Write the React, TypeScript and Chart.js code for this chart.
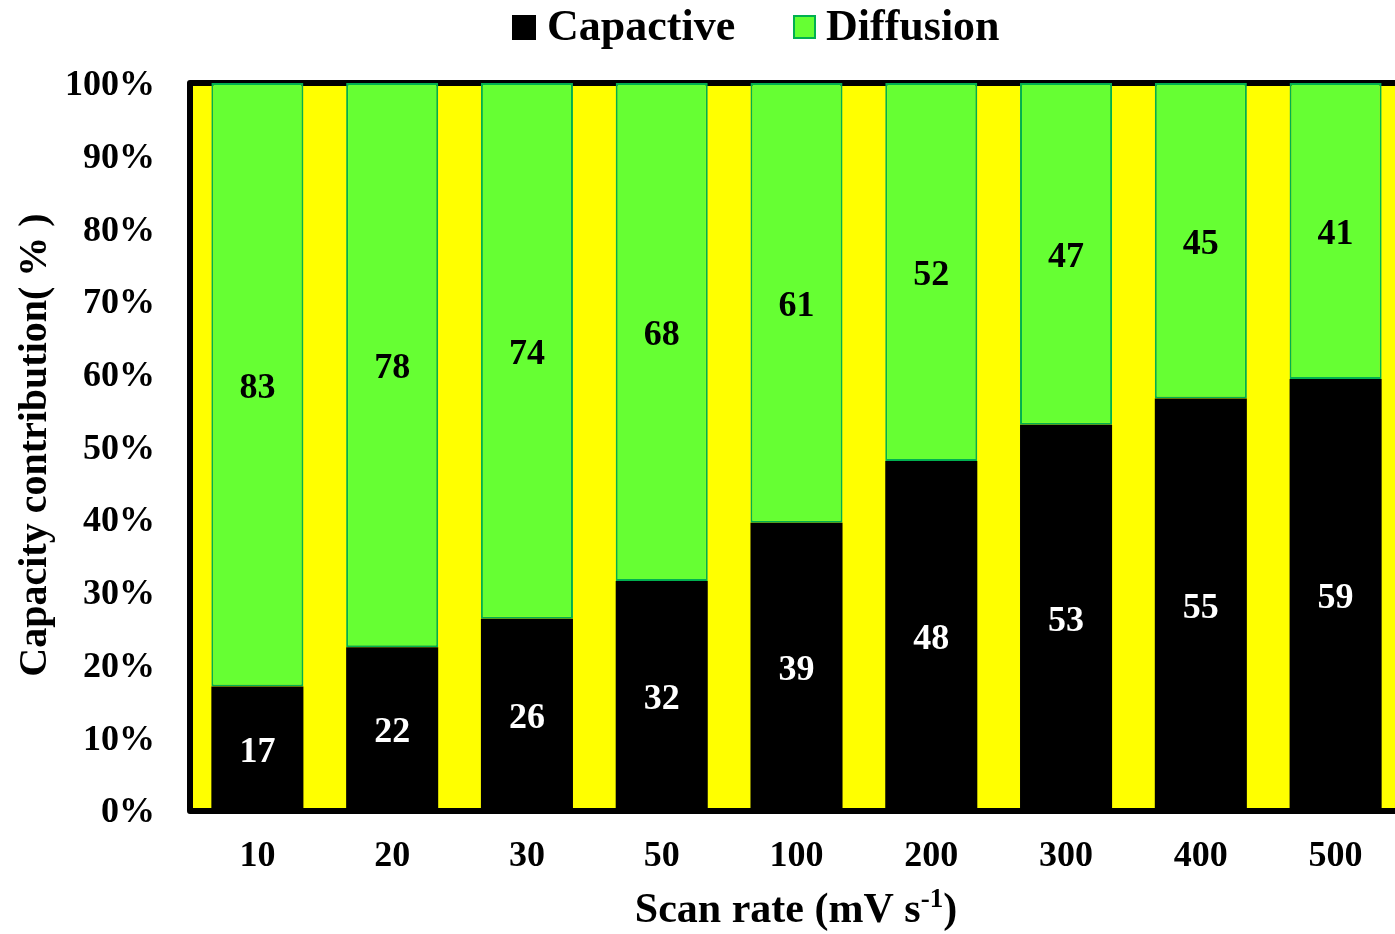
import React, { useEffect, useRef } from "react";
import { Chart, registerables } from "chart.js";

Chart.register(...registerables);

const categories = ["10", "20", "30", "50", "100", "200", "300", "400", "500"];
const capacitiveValues = [17, 22.4, 26.3, 31.5, 39.5, 48, 53, 56.6, 59.3];
const diffusionValues = [83, 77.6, 73.7, 68.5, 60.5, 52, 47, 43.4, 40.7];
const capacitiveLabels = ["17", "22", "26", "32", "39", "48", "53", "55", "59"];
const diffusionLabels = ["83", "78", "74", "68", "61", "52", "47", "45", "41"];
const seriesNames = ["Capactive", "Diffusion"];
const yTickValues = [0, 10, 20, 30, 40, 50, 60, 70, 80, 90, 100];
const xTitle = "Scan rate (mV s";
const xTitleSup = "-1";
const yTitle = "Capacity contribution( % )";

const FONT = "'Liberation Serif', 'Times New Roman', serif";
const YELLOW = "#FFFF00";
const GREEN = "#66FF33";
const GREEN_EDGE = "#00B050";

const framePlugin = {
  id: "frame",
  beforeDatasetsDraw(chart: any) {
    const { ctx, chartArea } = chart;
    const { left, top, right, bottom } = chartArea;
    ctx.save();
    ctx.fillStyle = YELLOW;
    ctx.fillRect(left, top, right - left, bottom - top);
    ctx.strokeStyle = "#000";
    ctx.lineWidth = 6;
    ctx.lineJoin = "round";
    ctx.beginPath();
    ctx.moveTo(right + 10, top);
    ctx.lineTo(left, top);
    ctx.lineTo(left, bottom + 1);
    ctx.lineTo(right + 10, bottom + 1);
    ctx.stroke();
    ctx.restore();
  },
};

const labelPlugin = {
  id: "segLabels",
  afterDatasetsDraw(chart: any) {
    const { ctx } = chart;
    const labelSets = [capacitiveLabels, diffusionLabels];
    const colors = ["#fff", "#000"];
    ctx.save();
    ctx.font = `bold 36px ${FONT}`;
    ctx.textAlign = "center";
    ctx.textBaseline = "middle";
    chart.data.datasets.forEach((_: any, di: number) => {
      const meta = chart.getDatasetMeta(di);
      meta.data.forEach((el: any, i: number) => {
        const cy = (el.y + el.base) / 2;
        ctx.fillStyle = colors[di];
        ctx.fillText(labelSets[di][i], el.x, cy + 4);
      });
    });
    ctx.restore();
  },
};

const decorPlugin = {
  id: "decor",
  afterDraw(chart: any) {
    const { ctx } = chart;
    ctx.save();
    // Legend
    ctx.font = `bold 44px ${FONT}`;
    ctx.textBaseline = "alphabetic";
    ctx.textAlign = "left";
    ctx.fillStyle = "#000";
    ctx.fillRect(512, 15, 24, 25);
    ctx.fillText(seriesNames[0], 547, 40);
    ctx.fillStyle = GREEN;
    ctx.fillRect(793, 15, 23, 24);
    ctx.strokeStyle = GREEN_EDGE;
    ctx.lineWidth = 2;
    ctx.strokeRect(794, 16, 21, 22);
    ctx.fillStyle = "#000";
    ctx.fillText(seriesNames[1], 826, 40);

    // X title with superscript
    ctx.font = `bold 42px ${FONT}`;
    const w1 = ctx.measureText(xTitle).width;
    ctx.font = `bold 27px ${FONT}`;
    const w2 = ctx.measureText(xTitleSup).width;
    ctx.font = `bold 42px ${FONT}`;
    const w3 = ctx.measureText(")").width;
    const total = w1 + w2 + w3;
    const cx = 796;
    let x = cx - total / 2;
    const base = 922;
    ctx.fillText(xTitle, x, base);
    x += w1;
    ctx.font = `bold 27px ${FONT}`;
    ctx.fillText(xTitleSup, x, base - 15);
    x += w2;
    ctx.font = `bold 42px ${FONT}`;
    ctx.fillText(")", x, base);

    // Y title
    ctx.translate(46, 445);
    ctx.rotate(-Math.PI / 2);
    ctx.textAlign = "center";
    ctx.font = `bold 40px ${FONT}`;
    ctx.fillText(yTitle, 0, 0);
    ctx.restore();
  },
};

export default function App() {
  const ref = useRef<HTMLCanvasElement | null>(null);

  useEffect(() => {
    if (!ref.current) return;
    const chart = new Chart(ref.current, {
      type: "bar",
      data: {
        labels: categories,
        datasets: [
          {
            label: seriesNames[0],
            data: capacitiveValues,
            backgroundColor: "#000",
            borderWidth: 0,
            categoryPercentage: 1,
            barPercentage: 0.683,
          },
          {
            label: seriesNames[1],
            data: diffusionValues,
            backgroundColor: GREEN,
            borderColor: GREEN_EDGE,
            borderWidth: 2,
            borderSkipped: false,
            categoryPercentage: 1,
            barPercentage: 0.683,
          },
        ],
      },
      options: {
        animation: false,
        responsive: false,
        devicePixelRatio: 1,
        layout: { padding: { top: 83, right: 7, left: 0, bottom: 0 } },
        plugins: {
          legend: { display: false },
          tooltip: { enabled: false },
          title: { display: false },
        },
        scales: {
          x: {
            stacked: true,
            grid: { display: false, drawTicks: false },
            border: { display: false },
            ticks: {
              color: "#000",
              font: { family: FONT, size: 36, weight: "bold" },
              padding: 25,
              maxRotation: 0,
              autoSkip: false,
            },
            afterFit: (s: any) => {
              s.height = 124;
            },
          },
          y: {
            stacked: true,
            min: 0,
            max: 100,
            grid: { display: false, drawTicks: false },
            border: { display: false },
            afterBuildTicks: (s: any) => {
              s.ticks = yTickValues.map((v) => ({ value: v }));
            },
            ticks: {
              color: "#000",
              font: { family: FONT, size: 36, weight: "bold" },
              padding: 35,
              labelOffset: 3,
              callback: (v: any) => `${v}%`,
            },
            afterFit: (s: any) => {
              s.width = 190;
            },
          },
        },
      },
      plugins: [framePlugin, labelPlugin, decorPlugin],
    });
    return () => chart.destroy();
  }, []);

  return (
    <div
      style={{
        position: "fixed",
        left: 0,
        top: 0,
        width: 1395,
        height: 934,
        overflow: "hidden",
        background: "#fff",
      }}
    >
      <canvas ref={ref} width={1410} height={934} style={{ width: 1410, height: 934, display: "block" }} />
    </div>
  );
}
